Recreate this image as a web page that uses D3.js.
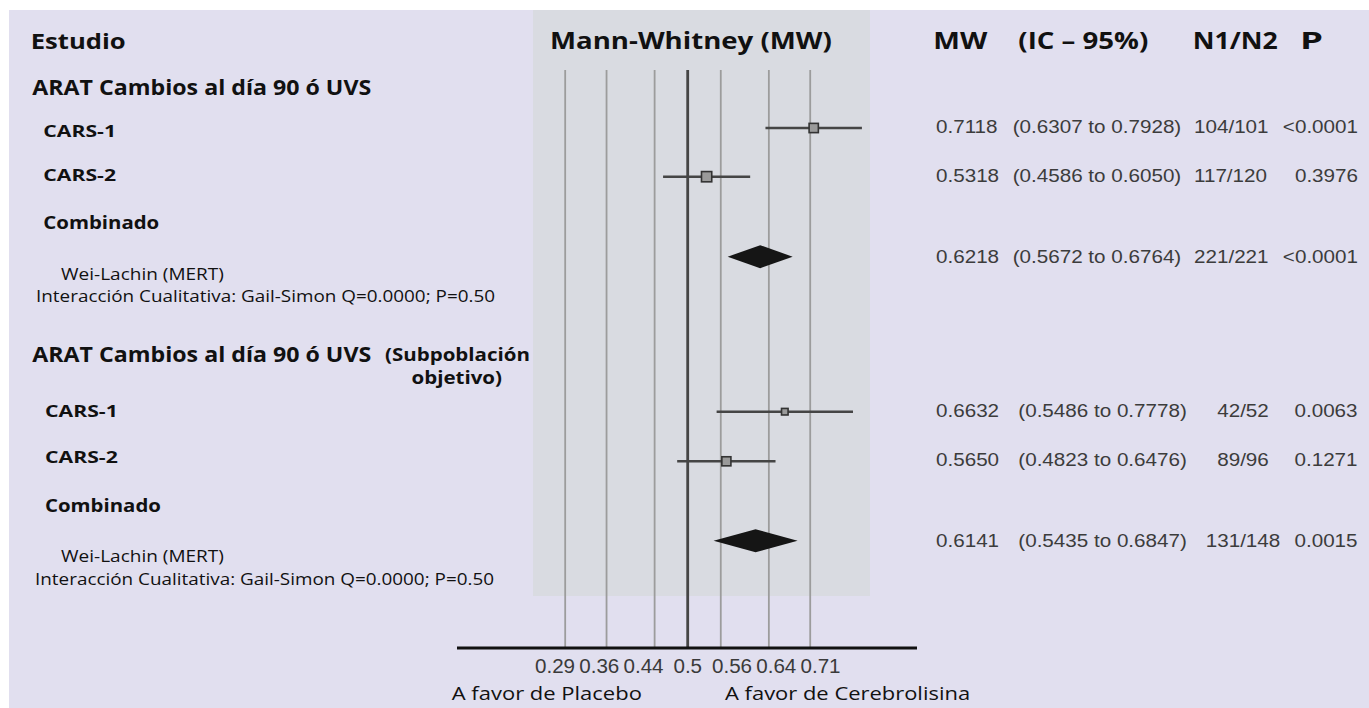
<!DOCTYPE html>
<html><head><meta charset="utf-8">
<script src="https://cdn.jsdelivr.net/npm/d3@7"></script>
<style>body{margin:0;background:#fff}svg{display:block}</style>
</head><body><svg id="c" width="1369" height="708"></svg>
<script>
// ---------- data ----------
const studyLabels = ["CARS-1","CARS-2","Wei-Lachin (MERT)","CARS-1","CARS-2","Wei-Lachin (MERT)"];
const rowKind = ["study","study","pooled","study","study","pooled"];
const mwValues = [0.7118,0.5318,0.6218,0.6632,0.5650,0.6141];
const ciLower = [0.6307,0.4586,0.5672,0.5486,0.4823,0.5435];
const ciUpper = [0.7928,0.6050,0.6764,0.7778,0.6476,0.6847];
const sampleSizes = ["104/101","117/120","221/221","42/52","89/96","131/148"];
const pValues = ["<0.0001","0.3976","<0.0001","0.0063","0.1271","0.0015"];
const tickValues = [0.2941,0.3636,0.4444,0.5,0.5556,0.6364,0.7059];
const tickLabels = ["0.29","0.36","0.44","0.5","0.56","0.64","0.71"];
const sectionTitle = "ARAT Cambios al día 90 ó UVS";
const sectionSub = ["(Subpoblación","objetivo)"];
const combinedLabel = "Combinado";
const heterogeneity = "Interacción Cualitativa: Gail-Simon Q=0.0000; P=0.50";
const colHeaders = ["MW","(IC – 95%)","N1/N2","P"];
const plotTitle = "Mann-Whitney (MW)";
const studyHeader = "Estudio";
const favorLabels = ["A favor de Placebo","A favor de Cerebrolisina"];

// ---------- layout ----------
const W = 1369, H = 708;
const svg = d3.select("#c");
const HF = "'Open Sans', 'Noto Sans', sans-serif";
const NF = "'Liberation Sans', Arial, sans-serif";
const BG = "#e1dfef", PANEL = "#d9dbe1", INK = "#111", NC = "#3c3c3c";

svg.append("rect").attr("width",W).attr("height",H).attr("fill","#fff");
svg.append("rect").attr("x",9).attr("y",10).attr("width",W-9).attr("height",H-10).attr("fill",BG);
svg.append("rect").attr("x",533).attr("y",10).attr("width",337).attr("height",586).attr("fill",PANEL);

const x = d3.scaleLinear().domain([0.3,0.7]).range([568.7,806.7]);
const rowIdx = d3.range(mwValues.length);
const y = d3.scaleOrdinal().domain(rowIdx).range([128,176.7,256.7,411.7,461.3,540.7]);

// gridlines
const gridTop = 70, axisY = 648;
svg.append("g").selectAll("line").data(tickValues).join("line")
  .attr("x1",d=>x(d)).attr("x2",d=>x(d)).attr("y1",gridTop).attr("y2",axisY)
  .attr("stroke",d=>d===0.5?"#454545":"#9c9c9c")
  .attr("stroke-width",d=>d===0.5?2.8:1.8);

// axis (labels set as an evenly spaced row, as in the reference)
const axis = d3.axisBottom(x).tickValues(tickValues).tickFormat((d,i)=>tickLabels[i]).tickSize(0).tickPadding(10.5);
const ag = svg.append("g").attr("transform",`translate(0,${axisY})`).call(axis);
ag.select(".domain").remove();
const labelPos = d3.scalePoint().domain(tickLabels).range([554.5,820]);
ag.selectAll("text").attr("font-family",NF).attr("font-size",20).attr("fill","#3a3a3a")
  .attr("transform",(d,i)=>`translate(${labelPos(tickLabels[i])-x(d)},0) scale(1.03,1)`);
svg.append("line").attr("x1",457).attr("x2",917).attr("y1",axisY).attr("y2",axisY)
  .attr("stroke","#111").attr("stroke-width",3);

// CI lines
const studies = rowIdx.filter(i=>rowKind[i]==="study");
svg.append("g").selectAll("line").data(studies).join("line")
  .attr("x1",i=>x(ciLower[i])).attr("x2",i=>x(ciUpper[i]))
  .attr("y1",i=>y(i)).attr("y2",i=>y(i))
  .attr("stroke","#454545").attr("stroke-width",2.6);

// squares sized by inverse CI width (weight)
const side = d3.scaleLinear().domain([0,10]).range([0,15]);
const sz = i=>side(1/(ciUpper[i]-ciLower[i]));
svg.append("g").selectAll("rect").data(studies).join("rect")
  .attr("x",i=>x(mwValues[i])-sz(i)/2).attr("y",i=>y(i)-sz(i)/2)
  .attr("width",sz).attr("height",sz)
  .attr("fill","#9a9a9a").attr("stroke","#333").attr("stroke-width",1.6);

// diamonds
const dh = 11.5;
svg.append("g").selectAll("path").data(rowIdx.filter(i=>rowKind[i]==="pooled")).join("path")
  .attr("d",i=>`M${x(ciLower[i])},${y(i)}L${x(mwValues[i])},${y(i)-dh}L${x(ciUpper[i])},${y(i)}L${x(mwValues[i])},${y(i)+dh}Z`)
  .attr("fill","#151515");

// ---------- text ----------
// o: {size, weight, fam, fill, anchor, w (target width), sx (fixed stretch)}
function t(txt,xp,yp,o){
  const el = svg.append("text").attr("x",0).attr("y",0)
    .attr("font-size",o.size).attr("font-weight",o.weight||"normal")
    .attr("font-family",o.fam||HF).attr("fill",o.fill||INK)
    .attr("text-anchor",o.anchor||"start").text(txt);
  let sx = o.sx||1;
  if(o.w){ const len = el.node().getComputedTextLength(); if(len>0) sx = o.w/len; }
  el.attr("transform",`translate(${xp},${yp}) scale(${sx},1)`);
  return el;
}
const B = "bold";
t(studyHeader,30.7,49.3,{size:21.4,weight:B,w:95});
t(plotTitle,550,48.5,{size:23,weight:B,w:282});
t(colHeaders[0],933.3,49.3,{size:22.4,weight:B,w:54});
t(colHeaders[1],1018.3,49.3,{size:22.4,weight:B,w:130});
t(colHeaders[2],1192.7,49.3,{size:22.4,weight:B,w:85});
t(colHeaders[3],1300,49.3,{size:22.4,weight:B,w:23});

// section 1
t(sectionTitle,32.3,95.3,{size:21.4,weight:B,w:339});
t(studyLabels[0],43.3,136.7,{size:16.8,weight:B,w:72.7});
t(studyLabels[1],43.3,180.5,{size:16.8,weight:B,w:72.7});
t(combinedLabel,43.3,229.3,{size:17.5,weight:B,w:116});
t(studyLabels[2],61,280,{size:16.4,w:163});
t(heterogeneity,36,301.7,{size:16.8,w:459});
// section 2
t(sectionTitle,32.3,361.7,{size:21.4,weight:B,w:339});
// two-line subtitle as one wrapped text
(function(){
  const el = svg.append("text").attr("font-size",17).attr("font-weight",B)
    .attr("font-family",HF).attr("fill",INK);
  const s1 = el.append("tspan").attr("x",0).attr("y",0).text(sectionSub[0]);
  const L = s1.node().getComputedTextLength();
  const sx = L>0 ? 145/L : 1;
  el.append("tspan").attr("x",(502-385)/sx).attr("y",23.4).attr("text-anchor","end").text(sectionSub[1]);
  el.attr("transform",`translate(385,360.5) scale(${sx},1)`);
})();
t(studyLabels[3],45,417,{size:16.8,weight:B,w:72.7});
t(studyLabels[4],45,463.3,{size:16.8,weight:B,w:72.7});
t(combinedLabel,45,511.7,{size:17.5,weight:B,w:116});
t(studyLabels[5],61,561.7,{size:16.4,w:163});
t(heterogeneity,35,585,{size:16.8,w:459});

// right columns
const baseY = [133.3,181.7,263.3,416.7,465.7,547.3];
const num = {size:18.6,fam:NF,fill:NC,sx:1.11};
const f4 = d3.format(".4f");
rowIdx.forEach(i=>{
  const s2 = i>=3;
  t(f4(mwValues[i]),936,baseY[i],num);
  t(`(${f4(ciLower[i])} to ${f4(ciUpper[i])})`, s2?1018.3:1012.7, baseY[i],num);
  if(s2){
    t(sampleSizes[i],1243,baseY[i],{...num,anchor:"middle"});
    t(pValues[i],1326,baseY[i],{...num,anchor:"middle"});
  } else {
    t(sampleSizes[i],1194,baseY[i],num);
    t(pValues[i],1358,baseY[i],{...num,anchor:"end"});
  }
});

// favor labels
t(favorLabels[0],451.7,700,{size:17.8,w:190});
t(favorLabels[1],725,700,{size:17.8,w:245});
</script></body></html>
